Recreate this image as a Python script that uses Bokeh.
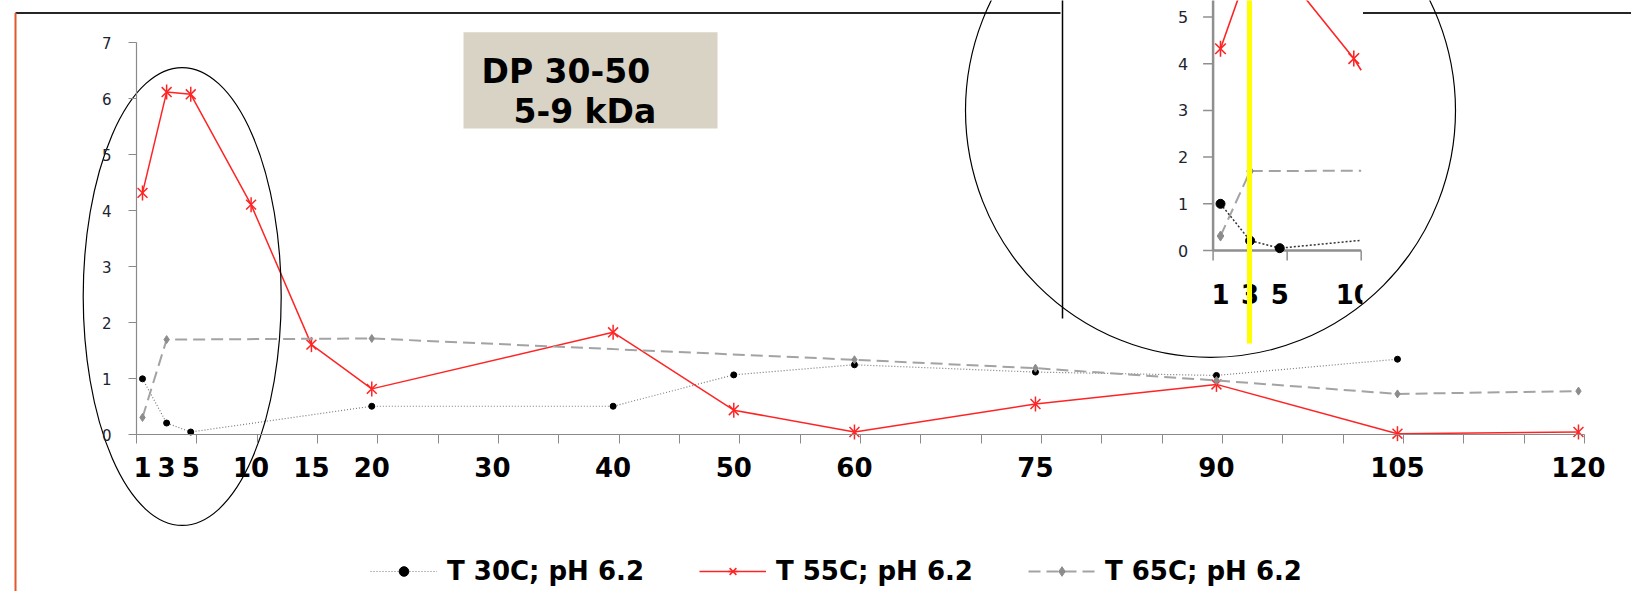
import numpy as np
from bokeh.plotting import figure
from bokeh.models import Range1d, LinearAxis, FixedTicker, Legend, LegendItem
from bokeh.core.properties import value
from bokeh.embed import file_html
from bokeh.resources import INLINE

# ---------------- data ----------------
time_labels = [1, 3, 5, 10, 15, 20, 30, 40, 50, 60, 75, 90, 105, 120]
t30_x = [1, 3, 5, 20, 40, 50, 60, 75, 90, 105]
t30_y = [1.00, 0.21, 0.05, 0.51, 0.51, 1.07, 1.25, 1.12, 1.06, 1.35]
t55_x = [1, 3, 5, 10, 15, 20, 40, 50, 60, 75, 90, 105, 120]
t55_y = [4.32, 6.12, 6.08, 4.11, 1.61, 0.82, 1.83, 0.44, 0.05, 0.55, 0.90, 0.02, 0.05]
t65_x = [1, 3, 20, 60, 75, 90, 105, 120]
t65_y = [0.31, 1.70, 1.72, 1.34, 1.19, 0.97, 0.73, 0.78]
y_ticks = [0, 1, 2, 3, 4, 5, 6, 7]
inset_y_ticks = [0, 1, 2, 3, 4, 5]
inset_x_labels = [1, 3, 5, 10]
series_names = ["T 30C; pH 6.2", "T 55C; pH 6.2", "T 65C; pH 6.2"]
box_lines = ["DP 30-50", "5-9 kDa"]

# ---------------- geometry (pixels of the reference picture) ----------------
W, H, OFF = 1631, 591, 0
X0_REF, SX = 129.93, 12.067   # x=0 position, px per unit
Y0_REF, SY = 434.3, 56.0      # y=0 position, px per unit


def dx(px):
    return (px - X0_REF) / SX


def dy(py):
    return (Y0_REF - py) / SY


# inset (magnified copy)
IX0, ISX, IY0, ISY = 1220.0, 14.81, 250.0, 46.7


def ipx(v):
    return IX0 + (v - 1) * ISX


def ipy(v):
    return IY0 - v * ISY


FONT = value("DejaVu Sans")
RED = "#ff2424"

p = figure(width=W, height=H,
           x_range=Range1d(dx(OFF), dx(OFF + W)),
           y_range=Range1d(dy(OFF + H), dy(OFF)),
           x_axis_type=None, y_axis_type=None,
           toolbar_location=None, output_backend="svg",
           min_border=0, outline_line_color=None)
p.title.visible = False

# ---------------- axes ----------------
yax = LinearAxis(fixed_location=0.5, bounds=(0, 7),
                 ticker=FixedTicker(ticks=y_ticks, minor_ticks=[]),
                 axis_line_color="#8a8a8a", axis_line_width=1.2,
                 major_tick_out=8, major_tick_in=0, major_tick_line_color="#8a8a8a",
                 minor_tick_line_color=None,
                 major_label_text_font_size="15px", major_label_text_font="DejaVu Sans",
                 major_label_standoff=17, major_label_text_color="#1c2430")
p.add_layout(yax, "left")

xax = LinearAxis(fixed_location=0, bounds=(0.5, 120.5),
                 ticker=FixedTicker(ticks=time_labels,
                                    minor_ticks=[0.5 + 5 * k for k in range(25)]),
                 axis_line_color="#8a8a8a", axis_line_width=1.2,
                 major_tick_line_color=None, major_tick_out=0, major_tick_in=0,
                 minor_tick_out=9, minor_tick_in=0, minor_tick_line_color="#8a8a8a",
                 major_label_text_font_size="26px", major_label_text_font_style="bold",
                 major_label_text_font="DejaVu Sans", major_label_standoff=13,
                 major_label_text_color="black")
p.add_layout(xax, "below")

# ---------------- frame decorations ----------------
p.segment(x0=[dx(15), dx(1362.5)], y0=[dy(12.5)] * 2,
          x1=[dx(1060), dx(1700)], y1=[dy(12.5)] * 2,
          line_color="#262626", line_width=1.8)
p.segment(x0=[dx(15)], y0=[dy(12.5)], x1=[dx(15)], y1=[dy(640)],
          line_color="#e2582a", line_width=2)
p.segment(x0=[dx(1062)], y0=[dy(-10)], x1=[dx(1062)], y1=[dy(318)],
          line_color="black", line_width=1.5)

# ---------------- main series ----------------
r30l = p.line(t30_x, t30_y, line_color="#7a7a7a", line_width=1.2, line_dash="1 2")
r30m = p.scatter(t30_x, t30_y, marker="circle", size=6, fill_color="black", line_color="black")
r55l = p.line(t55_x, t55_y, line_color=RED, line_width=1.5)
r55a = p.scatter(t55_x, t55_y, marker="x", size=14, line_color=RED, line_width=1.5)
r55b = p.scatter(t55_x, t55_y, marker="dash", angle=np.pi / 2, size=15, line_color=RED, line_width=1.5)
r65l = p.line(t65_x, t65_y, line_color="#a3a3a3", line_width=2, line_dash="12 6")
r65m = p.scatter(t65_x, t65_y, marker="diamond", size=8, fill_color="#8c8c8c", line_color="#8c8c8c")

# ---------------- text box ----------------
p.quad(left=[dx(463)], right=[dx(717)], top=[dy(31.7)], bottom=[dy(128)],
       fill_color="#d9d3c5", line_color=None)
p.text(x=[dx(481), dx(513)], y=[dy(70.5), dy(111)], text=box_lines,
       text_font=FONT, text_font_style="bold", text_font_size="33px",
       text_baseline="alphabetic", text_color="black")

# ---------------- ellipse around first points ----------------
p.ellipse(x=[dx(181.7)], y=[dy(296)], width=198 / SX, height=458 / SY,
          fill_color=None, line_color="black", line_width=1.2)

# ---------------- inset (magnified first minutes) ----------------
ax_x = ipx(0.5)
p.segment(x0=[dx(ax_x)], y0=[dy(ipy(0))], x1=[dx(ax_x)], y1=[dy(-10)],
          line_color="#8f8f8f", line_width=2.5)
p.segment(x0=[dx(ax_x)], y0=[dy(ipy(0))], x1=[dx(ipx(10.5))], y1=[dy(ipy(0))],
          line_color="#8f8f8f", line_width=2.5)
p.segment(x0=[dx(ax_x - 10)] * len(inset_y_ticks), y0=[dy(ipy(t)) for t in inset_y_ticks],
          x1=[dx(ax_x)] * len(inset_y_ticks), y1=[dy(ipy(t)) for t in inset_y_ticks],
          line_color="#8f8f8f", line_width=1.5)
xt = [0.5, 5.5, 10.5]
p.segment(x0=[dx(ipx(v)) for v in xt], y0=[dy(ipy(0))] * 3,
          x1=[dx(ipx(v)) for v in xt], y1=[dy(ipy(0) + 10)] * 3,
          line_color="#8f8f8f", line_width=1.5)
p.text(x=[dx(ax_x - 35)] * len(inset_y_ticks), y=[dy(ipy(t)) for t in inset_y_ticks],
       text=[str(t) for t in inset_y_ticks], text_font=FONT, text_font_size="16px",
       text_align="left", text_baseline="middle", text_color="#1c2430")
p.text(x=[dx(ipx(v)) for v in inset_x_labels], y=[dy(ipy(0) + 43)] * len(inset_x_labels),
       text=[str(v) for v in inset_x_labels], text_font=FONT, text_font_size="26px",
       text_font_style="bold", text_align="center", text_baseline="middle", text_color="black")


def clip_series(xs, ys, xmax=10.5):
    xs = np.asarray(xs, float)
    ys = np.asarray(ys, float)
    keep = xs <= xmax
    cx, cy = list(xs[keep]), list(ys[keep])
    if (~keep).any():
        cx.append(xmax)
        cy.append(float(np.interp(xmax, xs, ys)))
    return cx, cy, list(xs[keep]), list(ys[keep])


def to_inset(xs, ys):
    return [dx(ipx(v)) for v in xs], [dy(ipy(v)) for v in ys]


cx, cy, mx, my = clip_series(t65_x, t65_y)
lx, ly = to_inset(cx, cy)
p.line(lx, ly, line_color="#a3a3a3", line_width=2, line_dash="12 6")
px_, py_ = to_inset(mx, my)
p.scatter(px_, py_, marker="diamond", size=10, fill_color="#8c8c8c", line_color="#8c8c8c")

cx, cy, mx, my = clip_series(t30_x, t30_y)
lx, ly = to_inset(cx, cy)
p.line(lx, ly, line_color="#333333", line_width=1.5, line_dash="2 2")
px_, py_ = to_inset(mx, my)
p.scatter(px_, py_, marker="circle", size=9, fill_color="black", line_color="black")

cx, cy, mx, my = clip_series(t55_x, t55_y)
lx, ly = to_inset(cx, cy)
p.line(lx, ly, line_color=RED, line_width=1.6)
px_, py_ = to_inset(mx, my)
p.scatter(px_, py_, marker="x", size=15, line_color=RED, line_width=1.6)
p.scatter(px_, py_, marker="dash", angle=np.pi / 2, size=16, line_color=RED, line_width=1.6)

# crop the magnified picture at its right edge
p.quad(left=[dx(1362)], right=[dx(1400)], top=[dy(266)], bottom=[dy(318)],
       fill_color="white", line_color=None)

# yellow marker line
p.segment(x0=[dx(1249)], y0=[dy(-10)], x1=[dx(1249)], y1=[dy(343)],
          line_color="#ffff00", line_width=5)

# big circle of the magnifier
p.ellipse(x=[dx(1210)], y=[dy(110)], width=490 / SX, height=494 / SY,
          fill_color=None, line_color="black", line_width=1.2)

# ---------------- legend ----------------
legend = Legend(items=[LegendItem(label=series_names[0], renderers=[r30l, r30m]),
                       LegendItem(label=series_names[1], renderers=[r55l, r55a, r55b]),
                       LegendItem(label=series_names[2], renderers=[r65l, r65m])],
                location=(370, H - 570 - 12 - 4), orientation="horizontal",
                glyph_width=67, glyph_height=24, label_height=24, label_standoff=10,
                spacing=55, padding=0, margin=0,
                border_line_color=None, background_fill_alpha=0,
                label_text_font_size="26px", label_text_font_style="bold",
                label_text_font="DejaVu Sans", label_text_color="black")
p.add_layout(legend)

open("out.html", "w").write(file_html(p, INLINE))
